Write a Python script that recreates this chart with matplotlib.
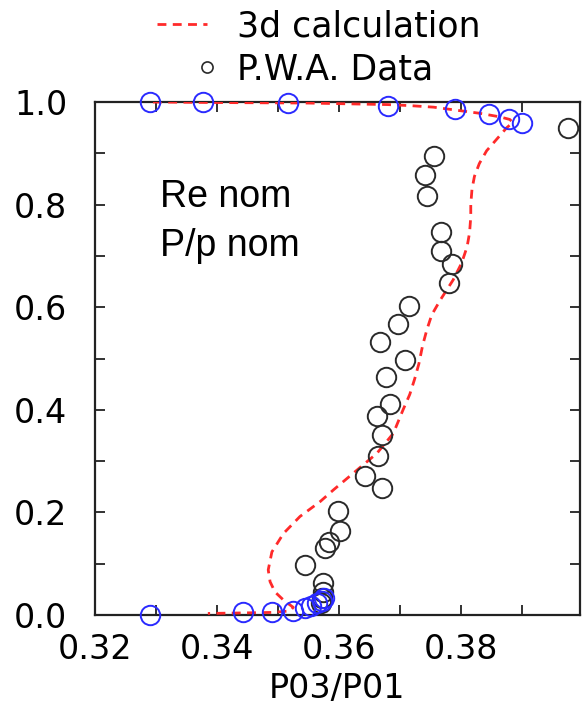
import matplotlib
matplotlib.use("Agg")
import matplotlib.pyplot as plt
from matplotlib.lines import Line2D
from matplotlib.legend_handler import HandlerLine2DCompound
from matplotlib.ticker import MultipleLocator

# 3d calculation (dashed red curve), ordered from tip to hub
calc_x = [0.3295, 0.3400, 0.3550, 0.3680, 0.3716, 0.3755, 0.3793, 0.3831,
          0.3864, 0.3880, 0.3885, 0.3875, 0.3864, 0.3842, 0.3830, 0.3822,
          0.3818, 0.3816, 0.3816, 0.3814, 0.3810, 0.3801, 0.3787, 0.3766,
          0.3752, 0.3744, 0.3737, 0.3731, 0.3724, 0.3716, 0.3705, 0.3689,
          0.3662, 0.3623, 0.3591, 0.3569, 0.3536, 0.3509, 0.3490, 0.3484,
          0.3487, 0.3495, 0.3510, 0.3525, 0.3520, 0.3490, 0.3440, 0.3385]
calc_y = [1.000, 0.999, 0.998, 0.995, 0.993, 0.990, 0.984, 0.978,
          0.971, 0.966, 0.960, 0.950, 0.935, 0.905, 0.880, 0.855,
          0.830, 0.800, 0.776, 0.745, 0.718, 0.686, 0.653, 0.614,
          0.585, 0.556, 0.525, 0.490, 0.460, 0.430, 0.400, 0.354,
          0.315, 0.276, 0.244, 0.221, 0.192, 0.159, 0.123, 0.088,
          0.065, 0.045, 0.028, 0.015, 0.008, 0.005, 0.004, 0.003]

# P.W.A. data, mid-span points (black)
pwa_x = [0.3976, 0.3755, 0.3741, 0.3745, 0.3768, 0.3768, 0.3785, 0.3780,
         0.3715, 0.3697, 0.3667, 0.3708, 0.3677, 0.3684, 0.3662, 0.3670,
         0.3664, 0.3642, 0.3670, 0.3599, 0.3602, 0.3583, 0.3577, 0.3544,
         0.3574, 0.3573, 0.3572, 0.3570]
pwa_y = [0.949, 0.895, 0.858, 0.817, 0.747, 0.710, 0.684, 0.648,
         0.602, 0.567, 0.533, 0.498, 0.463, 0.411, 0.388, 0.351,
         0.310, 0.271, 0.247, 0.203, 0.164, 0.143, 0.130, 0.098,
         0.062, 0.045, 0.033, 0.024]

# P.W.A. data near the endwalls (blue)
wall_x = [0.3290, 0.3377, 0.3516, 0.3680, 0.3790, 0.3846, 0.3878, 0.3900,
          0.3291, 0.3442, 0.3490, 0.3525, 0.3544, 0.3554, 0.3564, 0.3572, 0.3575]
wall_y = [1.000, 1.000, 0.998, 0.992, 0.986, 0.976, 0.967, 0.959,
          0.000, 0.005, 0.005, 0.008, 0.013, 0.018, 0.023, 0.028, 0.034]

x_ticks = [0.32, 0.34, 0.36, 0.38]
y_ticks = [0.0, 0.2, 0.4, 0.6, 0.8, 1.0]


class MarkerAtEnd(HandlerLine2DCompound):
    # gnuplot-style key: symbol sits at the right end of the sample
    def get_xdata(self, legend, xdescent, ydescent, width, height, fontsize):
        xdata = [-xdescent, -xdescent + width]
        return xdata, [-xdescent + width]


plt.rcParams['font.family'] = ['DejaVu Sans']

fig = plt.figure(figsize=(5.82, 7.10), dpi=100)
ax = fig.add_axes([0.1632, 0.1338, 0.8333, 0.7225])

calc_line, = ax.plot(calc_x, calc_y, color='#ff2a2a', lw=2.0,
                     dashes=(3.2, 2.3), zorder=3)
ax.plot(pwa_x, pwa_y, 'o', ms=14, mfc='none', mec='#2a2a2a', mew=1.4, zorder=4)
ax.plot(wall_x, wall_y, 'o', ms=14, mfc='none', mec='#2a2aff', mew=1.4,
        zorder=5, clip_on=False)

ax.set_xlim(0.32, 0.3995)
ax.set_ylim(0.0, 1.0)
ax.set_xticks(x_ticks)
ax.set_xticklabels([f"{t:.2f}" for t in x_ticks])
ax.set_yticks(y_ticks)
ax.set_yticklabels([f"{t:.1f}" for t in y_ticks])
ax.xaxis.set_minor_locator(MultipleLocator(0.01))
ax.yaxis.set_minor_locator(MultipleLocator(0.1))
ax.tick_params(which='both', direction='in', top=True, right=True,
               length=7, width=1.3, color='#222222')
ax.tick_params(axis='x', which='major', labelsize=24, pad=13)
ax.tick_params(axis='y', which='major', labelsize=24, pad=20)
for sp in ax.spines.values():
    sp.set_linewidth(1.6)
    sp.set_color('#222222')

ax.set_xlabel("P03/P01", fontsize=24, labelpad=4)

ax.text(0.135, 0.795, "Re nom", transform=ax.transAxes, fontsize=27,
        family='Liberation Sans', va='baseline')
ax.text(0.135, 0.70, "P/p nom", transform=ax.transAxes, fontsize=27,
        family='Liberation Sans', va='baseline')

pwa_handle = Line2D([], [], ls='none', marker='o', ms=8, mfc='none',
                    mec='#2a2a2a', mew=1.2)
fig.legend([calc_line, pwa_handle], ["3d calculation", "P.W.A. Data"],
           loc='upper left', bbox_to_anchor=(0.246, 1.006), frameon=False,
           fontsize=25, handlelength=1.45, handletextpad=0.85,
           labelspacing=0.25, borderaxespad=0,
           handler_map={pwa_handle: MarkerAtEnd()})

fig.savefig("out.png", dpi=100)
